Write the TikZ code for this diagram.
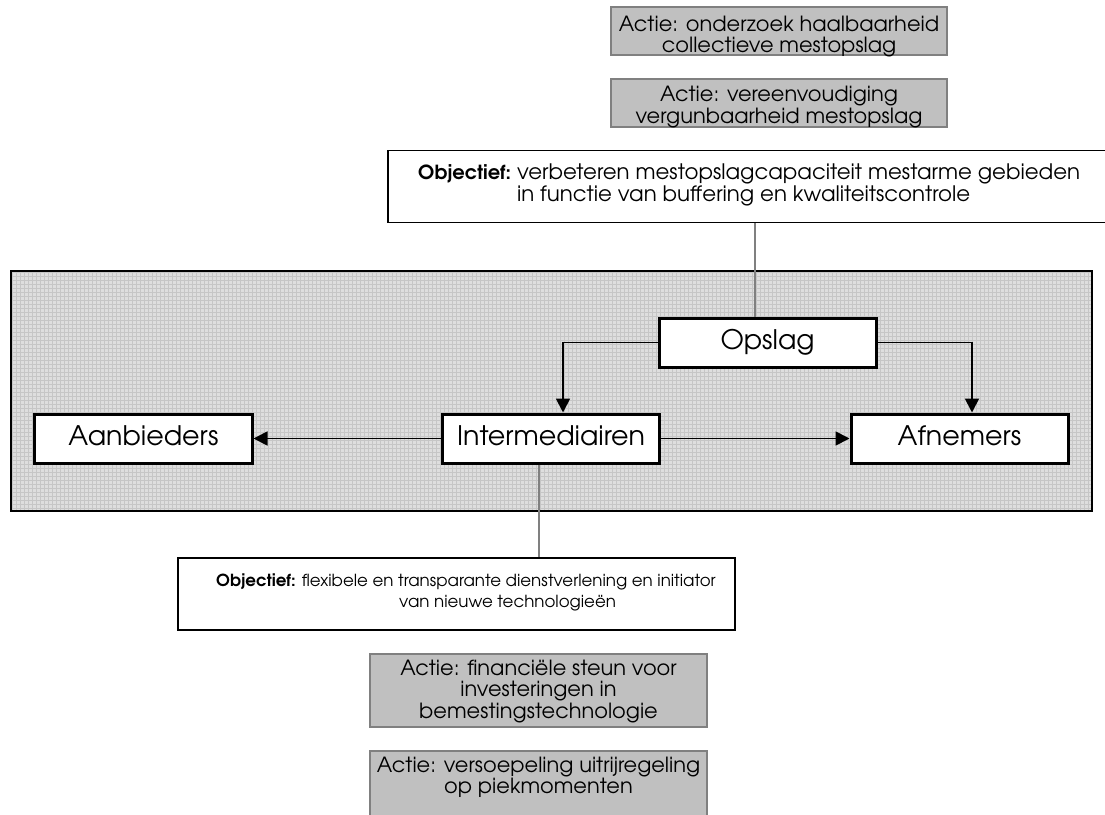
\documentclass[tikz,border=0pt]{standalone}
\usepackage{fontspec}
\setmainfont{TeX Gyre Adventor}
\usetikzlibrary{arrows.meta}
\definecolor{actfill}{RGB}{192,192,192}
\definecolor{actline}{RGB}{128,128,128}
\definecolor{panelfill}{RGB}{222,222,222}
\definecolor{panelgrid}{RGB}{198,198,198}
\definecolor{linkgray}{RGB}{128,128,128}
% centred rows whose first baseline is the baseline of the block
\newcommand\txtrows[1]{\begin{tabular}[t]{@{}c@{}}#1\end{tabular}}
\begin{document}
\begin{tikzpicture}[x=1bp,y=-1bp,
  actbox/.style={draw=actline, fill=actfill, line width=1.8bp, minimum width=336bp, inner sep=0pt},
  acttxt/.style={anchor=base, inner sep=0pt},
  objbox/.style={draw, fill=white, line width=1.5bp, minimum height=72bp, inner sep=0pt},
  objtxt/.style={anchor=base west, inner sep=0pt},
  mainbox/.style={draw, fill=white, line width=3bp, minimum width=217bp, minimum height=49bp,
    inner sep=0pt, font=\fontsize{27}{30}\selectfont, text height=20bp, text depth=7bp},
  arr/.style={draw, line width=1.8bp, -{Triangle[length=14bp,width=14bp]}},
  link/.style={draw=linkgray, line width=2bp}]
\useasboundingbox (0,0) rectangle (1105,815);

% shaded panel with its fine grid
\node[fill=panelfill, minimum width=1081bp, minimum height=240bp, inner sep=0pt] (panel) at (551.5,391) {};
\begin{scope}
  \clip (panel.south west) rectangle (panel.north east);
  \draw[panelgrid, line width=0.6bp, step=4bp] (panel.south west) grid (panel.north east);
\end{scope}
\draw[line width=1.5bp] (panel.south west) rectangle (panel.north east);

% actions above
\node[actbox, minimum height=48bp] (act1) at (779,31) {};
\node[acttxt] (act1txt) at (779,32) {\fontsize{21}{18.5}\selectfont\txtrows{Actie: onderzoek haalbaarheid\\collectieve mestopslag}};
\node[actbox, minimum height=48bp] (act2) at (779,103) {};
\node[acttxt] (act2txt) at (779,102) {\fontsize{21}{20}\selectfont\txtrows{Actie: vereenvoudiging\\vergunbaarheid mestopslag}};

% objective for storage
\node[objbox, minimum width=727bp] (obj1) at (751.5,186.5) {};
\node[objtxt] (obj1txt) at (418,179) {\fontsize{21.4}{21}\selectfont{\fontsize{19.5}{21}\selectfont\textbf{Objectief:}}\hspace{6bp}\begin{tabular}[t]{@{}l@{}}verbeteren mestopslagcapaciteit mestarme gebieden\\in functie van buffering en kwaliteitscontrole\end{tabular}};

% chain
\node[mainbox] (opslag) at (767.5,342.5) {Opslag};
\node[mainbox] (inter) at (551,438.5) {Intermediairen};
\node[mainbox] (aanb) at (143.5,438.5) {Aanbieders};
\node[mainbox] (afn) at (959.5,438.5) {Afnemers};

\draw[arr] (opslag.west) -| ([xshift=12bp]inter.north);
\draw[arr] (opslag.east) -| ([xshift=12.5bp]afn.north);
\draw[arr] (inter.west) -- (aanb.east);
\draw[arr] (inter.east) -- (afn.west);

% objective for intermediaries
\node[objbox, minimum width=557bp] (obj2) at (456.5,594) {};
\node[objtxt] (obj2a) at (216,586) {\fontsize{16.7}{21}\selectfont\textbf{Objectief:} flexibele en transparante dienstverlening en initiator};
\node[objtxt] (obj2b) at (399,607) {\fontsize{16.7}{21}\selectfont van nieuwe technologieën};

% grey links
\coordinate (t1) at (755,0);
\coordinate (t2) at (539,0);
\draw[link] (obj1.south -| t1) -- (opslag.north -| t1);
\draw[link] (inter.south -| t2) -- (obj2.north -| t2);

% actions below
\node[actbox, minimum width=337bp, minimum height=73bp] (act3) at (538.5,690.5) {};
\node[acttxt] (act3txt) at (538.5,675) {\fontsize{21}{21}\selectfont\txtrows{Actie: financiële steun voor\\investeringen in\\bemestingstechnologie}};
\node[actbox, minimum width=337bp, minimum height=90bp] (act4) at (538.5,796) {};
\node[acttxt] (act4txt) at (538.5,772) {\fontsize{21}{21}\selectfont\txtrows{Actie: versoepeling uitrijregeling\\op piekmomenten}};
\end{tikzpicture}
\end{document}
